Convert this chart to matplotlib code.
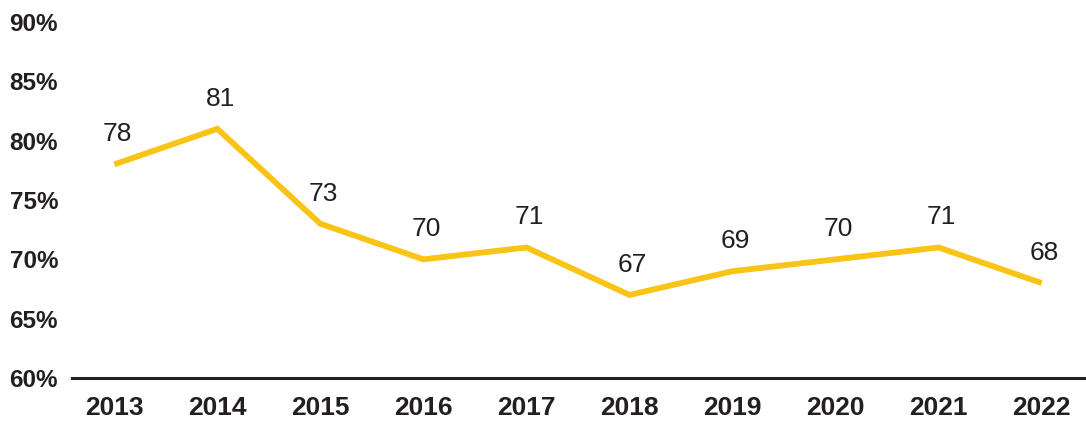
import matplotlib
matplotlib.use("Agg")
import matplotlib.pyplot as plt

years = [2013, 2014, 2015, 2016, 2017, 2018, 2019, 2020, 2021, 2022]
share = [78, 81, 73, 70, 71, 67, 69, 70, 71, 68]
y_ticks = [60, 65, 70, 75, 80, 85, 90]

fig = plt.figure(figsize=(10.86, 4.24), dpi=100)
ax = fig.add_axes([72 / 1086, 46 / 424, 1 - 72 / 1086, 356 / 424])

ax.plot(years, share, color="#F9C416", linewidth=4.2, solid_joinstyle="miter",
        solid_capstyle="butt", zorder=3)

for x, v in zip(years, share):
    ax.annotate(str(v), (x, v), xytext=(2, 13), textcoords="offset points",
                ha="center", va="bottom", fontsize=19, color="#231f20",
                family=["Liberation Sans", "DejaVu Sans"])

ax.set_xlim(years[0] - 0.41, years[-1] + 0.43)
ax.set_ylim(60, 90)
ax.set_yticks(y_ticks)
ax.set_yticklabels([f"{t}%" for t in y_ticks])
ax.set_xticks(years)
ax.set_xticklabels([str(y) for y in years])

for s in ["top", "right", "left"]:
    ax.spines[s].set_visible(False)
ax.spines["bottom"].set_linewidth(2.2)
ax.spines["bottom"].set_color("#231f20")
ax.tick_params(length=0)
ax.tick_params(axis="y", pad=10)
ax.tick_params(axis="x", pad=13)
for lbl in ax.get_yticklabels():
    lbl.set_fontsize(17.5)
for lbl in ax.get_xticklabels():
    lbl.set_fontsize(19)
for lbl in ax.get_xticklabels() + ax.get_yticklabels():
    lbl.set_fontfamily(["Liberation Sans", "DejaVu Sans"])
    lbl.set_fontweight("bold")
    lbl.set_color("#231f20")

fig.savefig("out.png", dpi=100)
